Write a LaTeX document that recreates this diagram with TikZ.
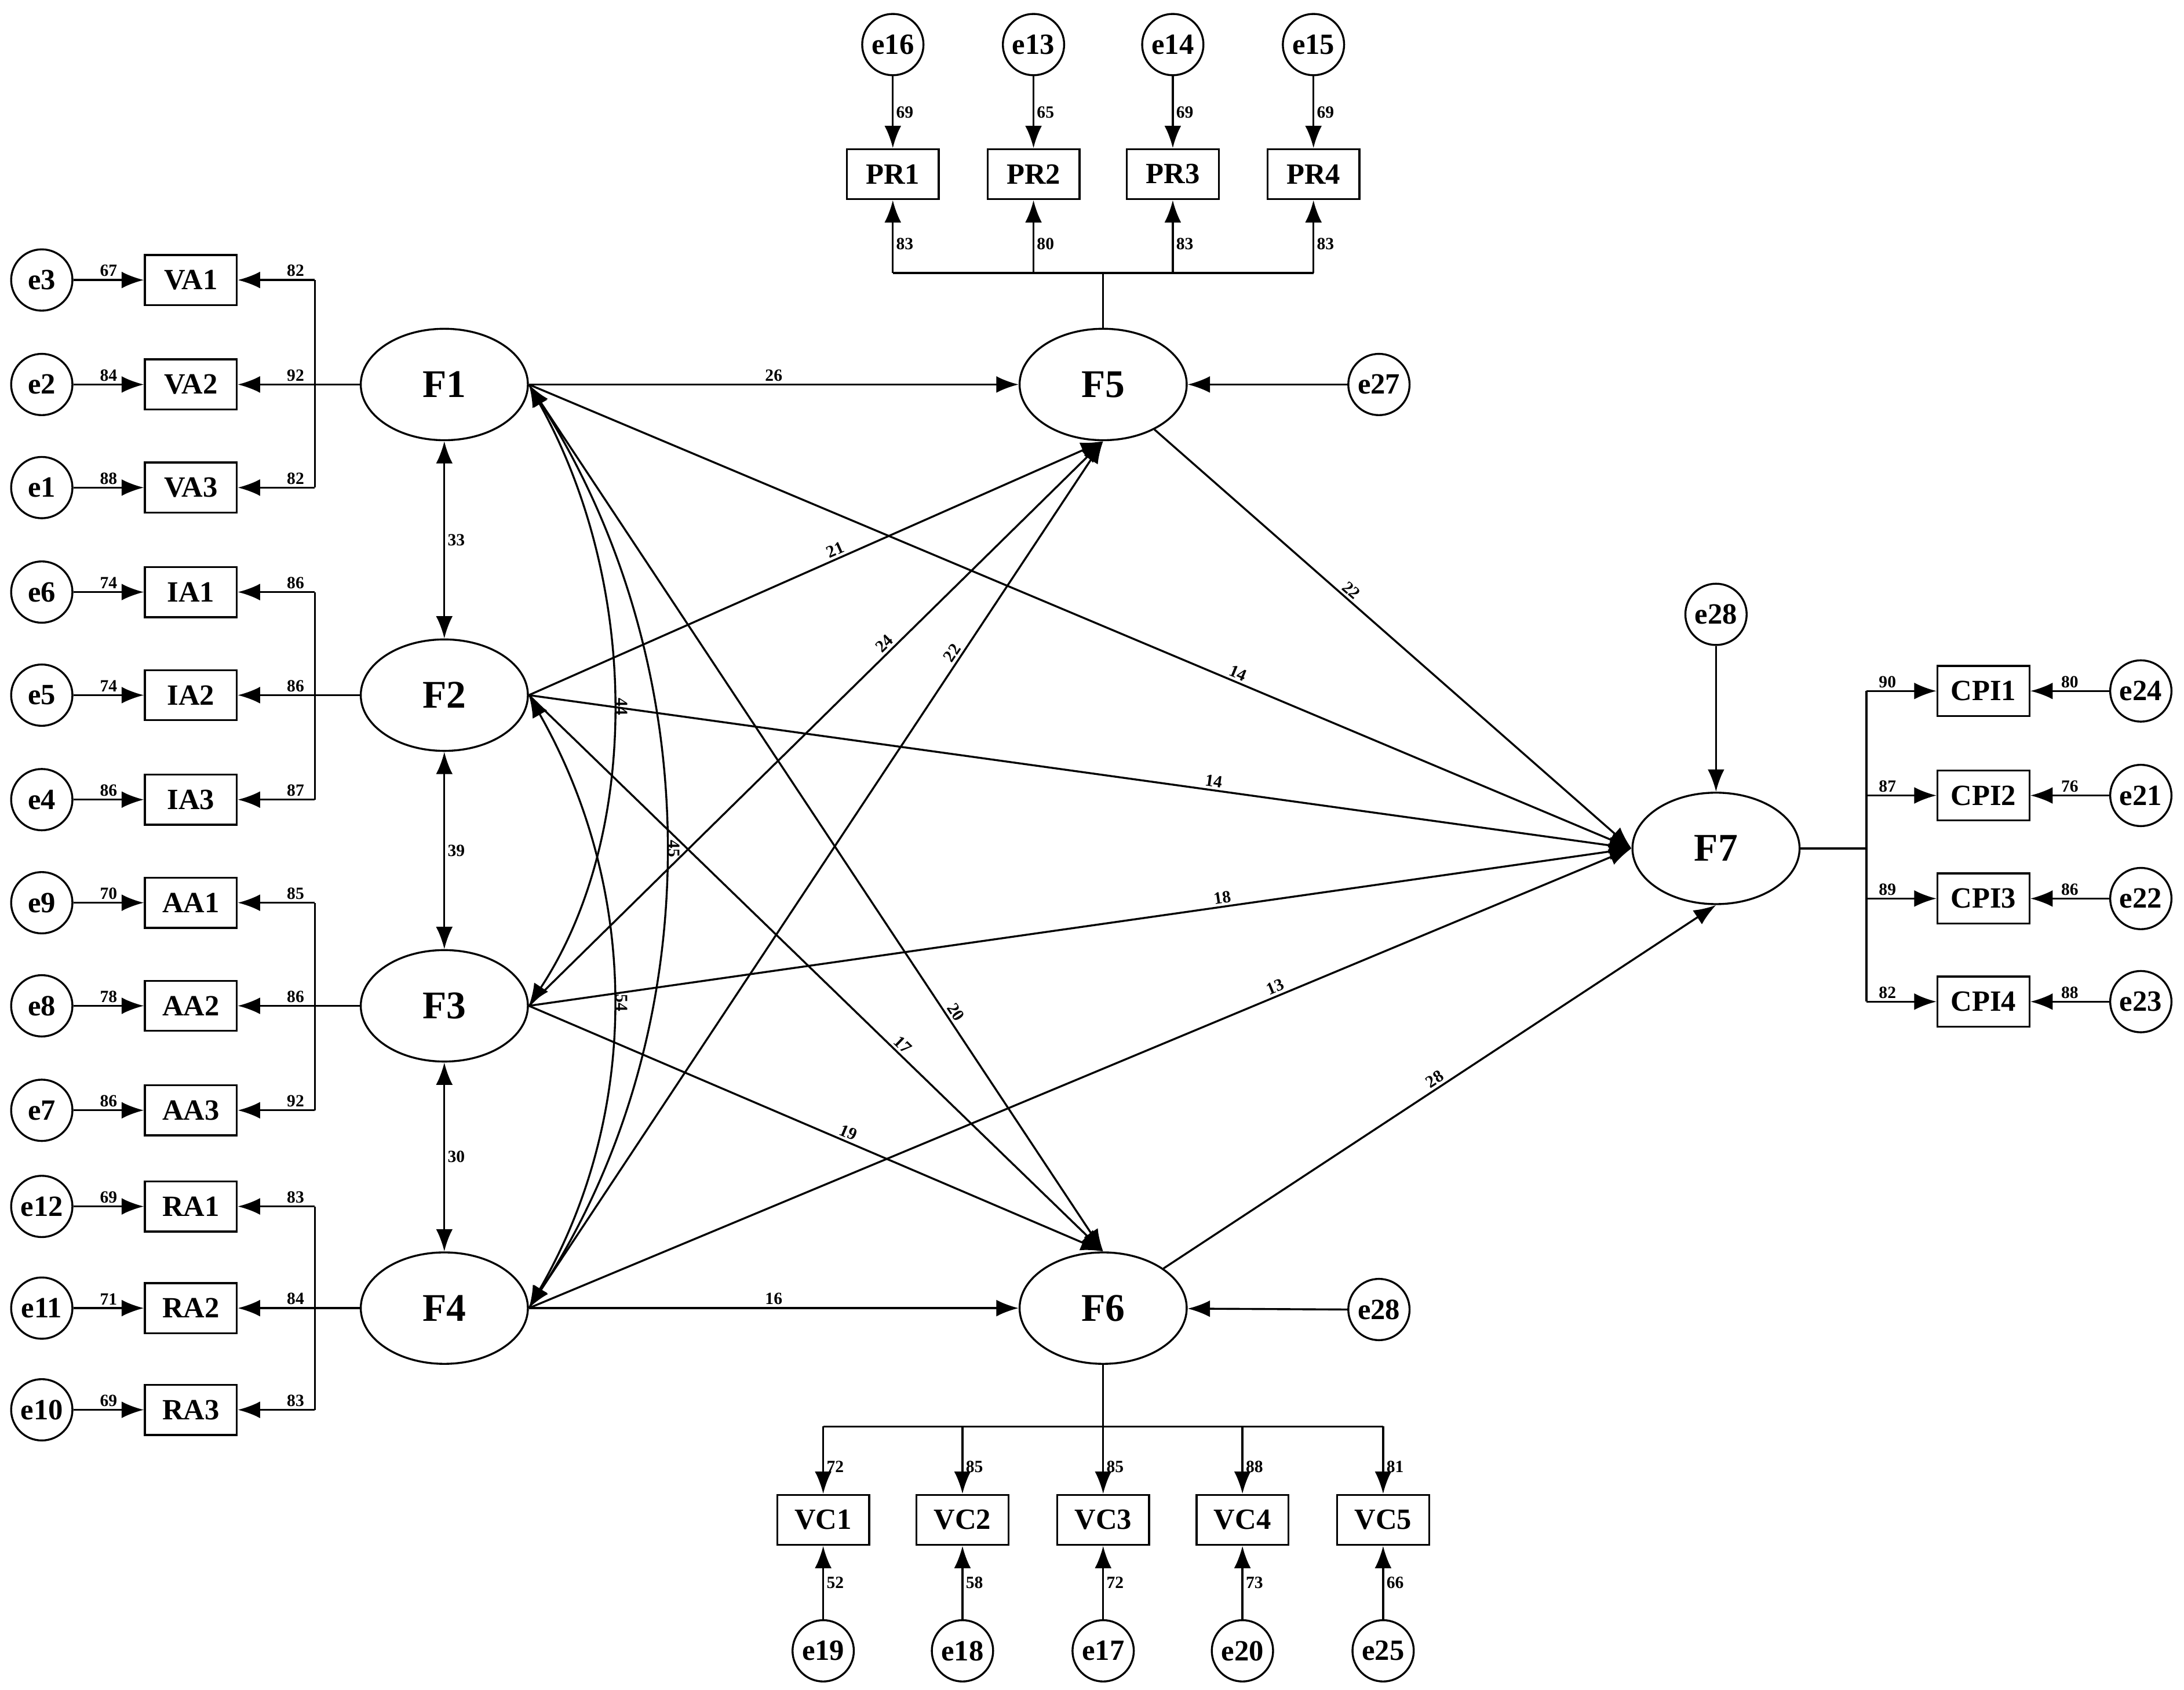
\documentclass[tikz,border=0pt]{standalone}
\usepackage{fontspec}
\setmainfont{Liberation Serif}
\usetikzlibrary{arrows.meta, shapes.geometric}

\tikzset{
  err/.style={circle, draw, thick, minimum size=0.88cm, inner sep=0pt, font=\fontsize{12}{12}\selectfont\bfseries},
  obs/.style={rectangle, draw, thick, minimum width=1.32cm, minimum height=0.72cm, inner sep=0pt, font=\fontsize{12}{12}\selectfont\bfseries},
  lat/.style={ellipse, draw, thick, minimum width=2.4cm, minimum height=1.6cm, inner sep=0pt, font=\fontsize{16}{16}\selectfont\bfseries},
  arr/.style={thick, -{Latex[length=3.2mm,width=2.4mm]}},
  dbl/.style={thick, {Latex[length=3.2mm,width=2.4mm]}-{Latex[length=3.2mm,width=2.4mm]}},
  num/.style={font=\fontsize{7}{7}\selectfont\bfseries, inner sep=1pt}
}

\begin{document}
\begin{tikzpicture}[x=0.02cm, y=-0.02cm]
\useasboundingbox (0,0) rectangle (1568,1213);

% latent factors
\node[lat] (F1) at (319,276) {F1};
\node[lat] (F2) at (319,499) {F2};
\node[lat] (F3) at (319,722) {F3};
\node[lat] (F4) at (319,939) {F4};
\node[lat] (F5) at (792,276) {F5};
\node[lat] (F6) at (792,939) {F6};
\node[lat] (F7) at (1232,609) {F7};

% left measurement blocks
\foreach \f/\a/\b/\c/\ya/\yb/\yc/\ea/\eb/\ec/\la/\lb/\lc/\ra/\rb/\rc in {
  F1/VA1/VA2/VA3/201/276/350/e3/e2/e1/67/84/88/82/92/82,
  F2/IA1/IA2/IA3/425/499/574/e6/e5/e4/74/74/86/86/86/87,
  F3/AA1/AA2/AA3/648/722/797/e9/e8/e7/70/78/86/85/86/92,
  F4/RA1/RA2/RA3/866/939/1012/e12/e11/e10/69/71/69/83/84/83}{
  \foreach \bx/\ex/\y/\l/\r in {\a/\ea/\ya/\la/\ra, \b/\eb/\yb/\lb/\rb, \c/\ec/\yc/\lc/\rc}{
    \node[obs] (\bx) at (137,\y) {\bx};
    \node[err] (\ex) at (30,\y) {\ex};
    \coordinate (k\bx) at (226,\y);
    \draw[arr] (\ex) -- node[num, above] {\l} (\bx);
    \draw[arr] (k\bx) -- node[num, above, pos=0.25] {\r} (\bx);
  }
  \draw[thick] (k\a) -- (k\c);
  \draw[thick] (\f) -- (k\b);
}

% F5 indicators
\coordinate (kF5) at (792,196);
\draw[thick] (F5) -- (kF5);
\foreach \bx/\ex/\x/\l/\r in {PR1/e16/641/69/83, PR2/e13/742/65/80, PR3/e14/842/69/83, PR4/e15/943/69/83}{
  \node[obs] (\bx) at (\x,125) {\bx};
  \node[err] (\ex) at (\x,32) {\ex};
  \coordinate (k\bx) at (\x,196);
  \draw[arr] (\ex) -- node[num, right] {\l} (\bx);
  \draw[arr] (k\bx) -- node[num, right, pos=0.4] {\r} (\bx);
}
\draw[thick] (kPR1) -- (kPR4);

% F6 indicators
\coordinate (kF6) at (792,1024);
\draw[thick] (F6) -- (kF6);
\foreach \bx/\ex/\x/\l/\r in {VC1/e19/591/52/72, VC2/e18/691/58/85, VC3/e17/792/72/85, VC4/e20/892/73/88, VC5/e25/993/66/81}{
  \node[obs] (\bx) at (\x,1091) {\bx};
  \node[err] (\ex) at (\x,1185) {\ex};
  \coordinate (k\bx) at (\x,1024);
  \draw[arr] (\ex) -- node[num, right] {\l} (\bx);
  \draw[arr] (k\bx) -- node[num, right, pos=0.6] {\r} (\bx);
}
\draw[thick] (kVC1) -- (kVC5);

% F7 indicators
\coordinate (kF7) at (1340,609);
\draw[thick] (F7) -- (kF7);
\foreach \bx/\ex/\y/\l/\r in {CPI1/e24/496/80/90, CPI2/e21/571/76/87, CPI3/e22/645/86/89, CPI4/e23/719/88/82}{
  \node[obs] (\bx) at (1424,\y) {\bx};
  \node[err] (\ex) at (1537,\y) {\ex};
  \coordinate (k\bx) at (1340,\y);
  \draw[arr] (\ex) -- node[num, above] {\l} (\bx);
  \draw[arr] (k\bx) -- node[num, above, pos=0.3] {\r} (\bx);
}
\draw[thick] (kCPI1) -- (kCPI4);

% disturbances
\node[err] (e27) at (990,276) {e27};
\node[err] (e28a) at (1232,441) {e28};
\node[err] (e28b) at (990,940) {e28};
\draw[arr] (e27) -- (F5);
\draw[arr] (e28a) -- (F7);
\draw[arr] (e28b.west) -- (F6);

% structural paths
\draw[arr] (F1.east) -- node[num, above, pos=0.5] {26} (F5);
\draw[arr] (F1.east) -- node[num, above, sloped, pos=0.64] {14} (F7.west);
\draw[arr] (F1.east) -- node[num, above, sloped, pos=0.73] {20} (F6.north);
\draw[arr] (F2.east) -- node[num, above, sloped, pos=0.54] {21} (F5.south);
\draw[arr] (F2.east) -- node[num, above, sloped, pos=0.62] {14} (F7.west);
\draw[arr] (F2.east) -- node[num, above, sloped, pos=0.64] {17} (F6.north);
\draw[arr] (F3.east) -- node[num, above, sloped, pos=0.63] {24} (F5.south);
\draw[arr] (F3.east) -- node[num, above, sloped, pos=0.63] {18} (F7.west);
\draw[arr] (F3.east) -- node[num, above, sloped, pos=0.55] {19} (F6.north);
\draw[arr] (F4.east) -- node[num, above, sloped, pos=0.75] {22} (F5.south);
\draw[arr] (F4.east) -- node[num, above, sloped, pos=0.68] {13} (F7.west);
\draw[arr] (F4.east) -- node[num, above, pos=0.5] {16} (F6);
\draw[arr] (F5) -- node[num, above, sloped, pos=0.4] {22} (F7.west);
\draw[arr] (F6) -- node[num, above, sloped, pos=0.5] {28} (F7.south);

% covariances
\draw[dbl] (F1) -- node[num, right] {33} (F2);
\draw[dbl] (F2) -- node[num, right] {39} (F3);
\draw[dbl] (F3) -- node[num, right] {30} (F4);
\draw[dbl] (F1.east) .. controls (460,420) and (460,600) .. node[num, above, sloped, pos=0.5] {44} (F3.east);
\draw[dbl] (F1.east) .. controls (510,480) and (510,740) .. node[num, above, sloped, pos=0.5] {45} (F4.east);
\draw[dbl] (F2.east) .. controls (460,640) and (460,800) .. node[num, above, sloped, pos=0.5] {54} (F4.east);
\end{tikzpicture}
\end{document}
